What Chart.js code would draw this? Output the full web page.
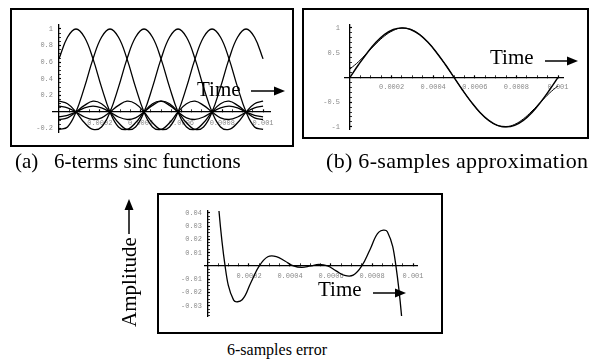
<!DOCTYPE html>
<html>
<head>
<meta charset="utf-8">
<script src="https://cdn.jsdelivr.net/npm/chart.js@4.4.1/dist/chart.umd.min.js"></script>
<style>
  body { margin: 0; background: #fff; }
  #page { position: relative; width: 591px; height: 360px; font-family: "Liberation Serif", "Times New Roman", serif; color: #000; }
  .box { position: absolute; border: 2px solid #000; box-sizing: border-box; }
  canvas { position: absolute; }
  .txt { position: absolute; font-size: 21px; line-height: 21px; white-space: nowrap; }
  svg { position: absolute; overflow: visible; }
</style>
</head>
<body>
<div id="page">
  <div class="box" style="left:10px;top:8px;width:284px;height:139px"></div>
  <div class="box" style="left:302px;top:8px;width:287px;height:131px"></div>
  <div class="box" style="left:157px;top:193px;width:286px;height:141px"></div>

  <canvas id="sincChart" width="280" height="135" style="left:12px;top:10px"></canvas>
  <canvas id="approxChart" width="283" height="127" style="left:304px;top:10px"></canvas>
  <canvas id="errorChart" width="282" height="137" style="left:159px;top:195px"></canvas>

  <div class="txt" style="left:197px;top:79px">Time</div>
  <svg style="left:0;top:0" width="1" height="1"><line x1="251" y1="91" x2="276" y2="91" stroke="#000" stroke-width="1.5"/><polygon points="285,91 274,86.5 274,95.5" fill="#000"/></svg>
  <div class="txt" style="left:490px;top:47px">Time</div>
  <svg style="left:0;top:0" width="1" height="1"><line x1="545" y1="61" x2="569" y2="61" stroke="#000" stroke-width="1.5"/><polygon points="578,61 567,56.5 567,65.5" fill="#000"/></svg>
  <div class="txt" style="left:318px;top:279px">Time</div>
  <svg style="left:0;top:0" width="1" height="1"><line x1="373" y1="293" x2="397" y2="293" stroke="#000" stroke-width="1.5"/><polygon points="406,293 395,288.5 395,297.5" fill="#000"/></svg>

  <div class="txt" style="left:129px;top:282px;transform:translate(-50%,-50%) rotate(-90deg)">Amplitude</div>
  <svg style="left:0;top:0" width="1" height="1"><line x1="129" y1="234" x2="129" y2="208" stroke="#000" stroke-width="1.5"/><polygon points="129,199 124.5,210 133.5,210" fill="#000"/></svg>

  <div class="txt" style="left:15px;top:151px">(a)&nbsp;&nbsp; 6-terms sinc functions</div>
  <div class="txt" style="left:326px;top:150px;font-size:22px;letter-spacing:0.3px">(b) 6-samples approximation</div>
  <div class="txt" style="left:277px;top:342px;font-size:16px;line-height:16px;transform:translateX(-50%)">6-samples error</div>
</div>

<script>
// time axis points (s)
var sampleTimes = [0, 0.0000417, 0.0000833, 0.000125, 0.0001667, 0.0002083, 0.00025, 0.0002917, 0.0003333,
  0.000375, 0.0004167, 0.0004583, 0.0005, 0.0005417, 0.0005833, 0.000625, 0.0006667, 0.0007083,
  0.00075, 0.0007917, 0.0008333, 0.000875, 0.0009167, 0.0009583, 0.001];

// (a) the six sinc terms
var sincTerm1 = [0.64, 0.9, 1, 0.9, 0.64, 0.3, 0, -0.18, -0.21, -0.13, 0, 0.1, 0.13, 0.08, 0, -0.07, -0.09, -0.06, 0, 0.05, 0.07, 0.05, 0, -0.04, -0.06];
var sincTerm2 = [-0.21, -0.18, 0, 0.3, 0.64, 0.9, 1, 0.9, 0.64, 0.3, 0, -0.18, -0.21, -0.13, 0, 0.1, 0.13, 0.08, 0, -0.07, -0.09, -0.06, 0, 0.05, 0.07];
var sincTerm3 = [0.13, 0.1, 0, -0.13, -0.21, -0.18, 0, 0.3, 0.64, 0.9, 1, 0.9, 0.64, 0.3, 0, -0.18, -0.21, -0.13, 0, 0.1, 0.13, 0.08, 0, -0.07, -0.09];
var sincTerm4 = [-0.09, -0.07, 0, 0.08, 0.13, 0.1, 0, -0.13, -0.21, -0.18, 0, 0.3, 0.64, 0.9, 1, 0.9, 0.64, 0.3, 0, -0.18, -0.21, -0.13, 0, 0.1, 0.13];
var sincTerm5 = [0.07, 0.05, 0, -0.06, -0.09, -0.07, 0, 0.08, 0.13, 0.1, 0, -0.13, -0.21, -0.18, 0, 0.3, 0.64, 0.9, 1, 0.9, 0.64, 0.3, 0, -0.18, -0.21];
var sincTerm6 = [-0.06, -0.04, 0, 0.05, 0.07, 0.05, 0, -0.06, -0.09, -0.07, 0, 0.08, 0.13, 0.1, 0, -0.13, -0.21, -0.18, 0, 0.3, 0.64, 0.9, 1, 0.9, 0.64];

// (b) original sine and 6-sample reconstruction
var sineValues = [0, 0.26, 0.5, 0.71, 0.87, 0.97, 1, 0.97, 0.87, 0.71, 0.5, 0.26, 0, -0.26, -0.5, -0.71, -0.87, -0.97, -1, -0.97, -0.87, -0.71, -0.5, -0.26, 0];
var approxValues = [0.17, 0.32, 0.5, 0.68, 0.84, 0.95, 1, 0.97, 0.87, 0.71, 0.5, 0.26, 0, -0.26, -0.5, -0.71, -0.87, -0.97, -1, -0.95, -0.84, -0.68, -0.5, -0.32, -0.17];

// error = reconstruction - sine
var errorValues = [0.174, 0.0645, 0, -0.0257, -0.0254, -0.0128, 0, 0.0069, 0.0071, 0.0037, 0, -0.0011, 0, 0.0011, 0,
  -0.0037, -0.0071, -0.0069, 0, 0.0128, 0.0254, 0.0257, 0, -0.0645, -0.174];

// tick labels
var timeTicks = [0.0002, 0.0004, 0.0006, 0.0008, 0.001];
var timeTickLabels = ['0.0002', '0.0004', '0.0006', '0.0008', '0.001'];
var sincTicks = [-0.2, 0.2, 0.4, 0.6, 0.8, 1];
var sincTickLabels = ['-0.2', '0.2', '0.4', '0.6', '0.8', '1'];
var approxTicks = [-1, -0.5, 0.5, 1];
var approxTickLabels = ['-1', '-0.5', '0.5', '1'];
var errorTicks = [-0.03, -0.02, -0.01, 0.01, 0.02, 0.03, 0.04];
var errorTickLabels = ['-0.03', '-0.02', '-0.01', '0.01', '0.02', '0.03', '0.04'];

var tickFont = { family: 'Liberation Mono', size: 7 };
var tickGrey = '#8a8a8a';

function toPoints(vals) {
  return sampleTimes.map(function(t, i) { return { x: t, y: vals[i] }; });
}

function stepList(from, to, step) {
  var out = [];
  var n = Math.round((to - from) / step);
  for (var i = 0; i <= n; i++) out.push(+(from + i * step).toFixed(8));
  return out;
}

function labelFor(majors, labels) {
  return function(value) {
    for (var i = 0; i < majors.length; i++) {
      if (Math.abs(value - majors[i]) < 1e-9) return labels[i];
    }
    return '';
  };
}

// axis line with inward tick marks (Mathematica style)
function axis(opts) {
  var isMajor = function(v) {
    return opts.majors.some(function(m) { return Math.abs(v - m) < 1e-9; });
  };
  return {
    type: 'linear',
    min: opts.min,
    max: opts.max,
    position: opts.position,
    afterBuildTicks: function(scale) {
      scale.ticks = opts.minor.map(function(v) { return { value: v }; });
    },
    border: { display: true, color: '#000', width: 1.3 },
    grid: {
      drawOnChartArea: false,
      drawTicks: true,
      tickLength: -3,
      tickColor: '#000',
      tickWidth: function(ctx) { return ctx.tick && isMajor(ctx.tick.value) ? 1.2 : 0.8; }
    },
    ticks: {
      display: opts.labels !== null,
      autoSkip: false,
      maxRotation: 0,
      padding: opts.padding || 0,
      color: tickGrey,
      font: tickFont,
      callback: opts.labels ? labelFor(opts.majors, opts.labels) : undefined
    }
  };
}

// y tick labels only, set a little left of the y axis
function labelAxis(min, max, at, majors, labels) {
  return {
    type: 'linear',
    min: min,
    max: max,
    position: { x: at },
    afterBuildTicks: function(scale) {
      scale.ticks = majors.map(function(v) { return { value: v }; });
    },
    border: { display: false },
    grid: { display: false, drawTicks: false },
    ticks: { autoSkip: false, color: tickGrey, font: tickFont, callback: labelFor(majors, labels) }
  };
}

function lineSet(vals, width) {
  return {
    data: toPoints(vals),
    borderColor: '#000',
    borderWidth: width,
    pointRadius: 0,
    tension: 0.4,
    fill: false
  };
}

function makeChart(id, datasets, scales, padding) {
  return new Chart(document.getElementById(id), {
    type: 'line',
    data: { datasets: datasets },
    options: {
      responsive: false,
      animation: false,
      parsing: false,
      layout: { padding: padding },
      plugins: { legend: { display: false }, tooltip: { enabled: false } },
      scales: scales
    }
  });
}

var sincChart = makeChart('sincChart',
  [sincTerm1, sincTerm2, sincTerm3, sincTerm4, sincTerm5, sincTerm6].map(function(v) { return lineSet(v, 1.3); }),
  {
    x: axis({ min: -0.0000294, max: 0.001034, position: { y: 0 }, minor: stepList(0, 0.001, 0.00005),
              majors: timeTicks, labels: timeTickLabels, padding: 10 }),
    y: axis({ min: -0.241, max: 1.048, position: { x: 0 }, minor: stepList(-0.2, 1, 0.05),
              majors: sincTicks, labels: null }),
    yLabels: labelAxis(-0.241, 1.048, -0.0000294, sincTicks, sincTickLabels)
  },
  { left: 41, top: 15, right: 22, bottom: 13 });

var approxChart = makeChart('approxChart',
  [lineSet(sineValues, 1.5), lineSet(approxValues, 1)],
  {
    x: axis({ min: -0.000024, max: 0.001024, position: { y: 0 }, minor: stepList(0, 0.001, 0.00005),
              majors: timeTicks, labels: timeTickLabels, padding: 9 }),
    y: axis({ min: -1.06, max: 1.06, position: { x: 0 }, minor: stepList(-1, 1, 0.1),
              majors: approxTicks, labels: null }),
    yLabels: labelAxis(-1.06, 1.06, -0.000048, approxTicks, approxTickLabels)
  },
  { left: 41, top: 15, right: 24, bottom: 4 });

var errorChart = makeChart('errorChart',
  [lineSet(errorValues, 1.3)],
  {
    x: axis({ min: -0.0000146, max: 0.0010195, position: { y: 0 }, minor: stepList(0, 0.001, 0.00005),
              majors: timeTicks, labels: timeTickLabels, padding: 9 }),
    y: axis({ min: -0.0376, max: 0.0413, position: { x: 0 }, minor: stepList(-0.0375, 0.04, 0.0025),
              majors: errorTicks, labels: null }),
    yLabels: labelAxis(-0.0376, 0.0413, -0.0000293, errorTicks, errorTickLabels)
  },
  { left: 46, top: 16, right: 24, bottom: 16 });
</script>
</body>
</html>
